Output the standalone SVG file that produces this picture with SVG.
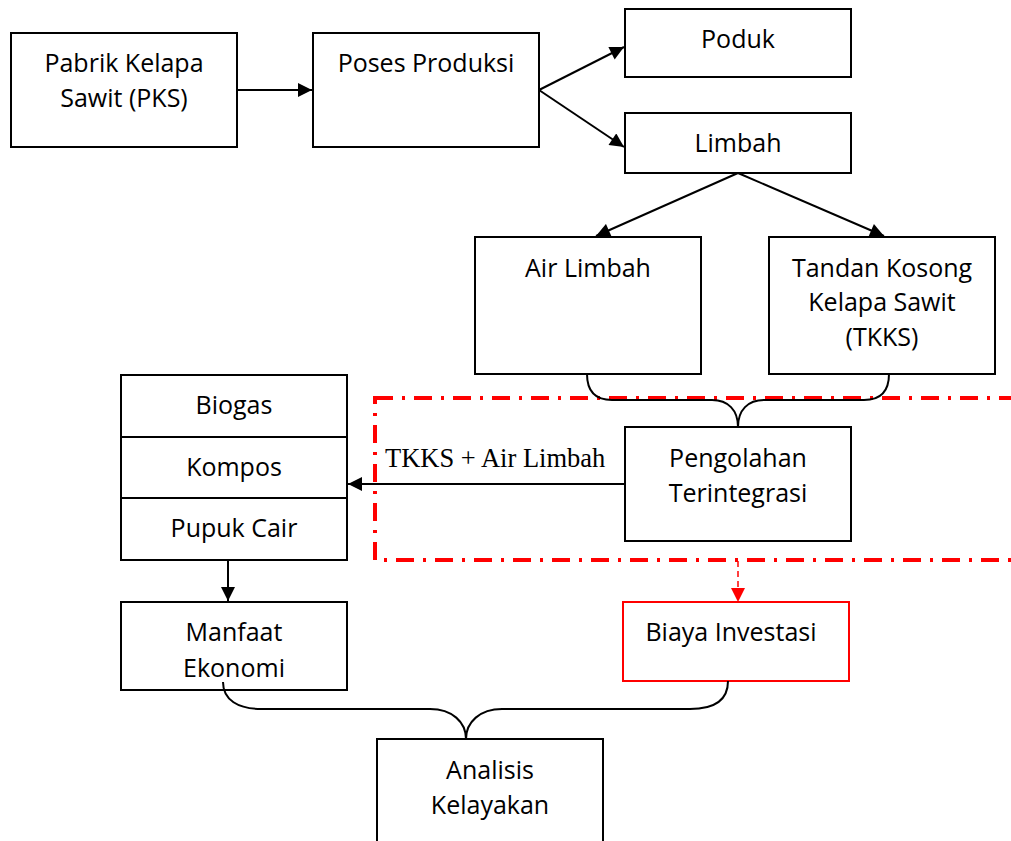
<svg xmlns="http://www.w3.org/2000/svg" width="1011" height="841" viewBox="0 0 1011 841">
<style>
.box{fill:#fff;stroke:#000;stroke-width:2}
.rbox{fill:#fff;stroke:#ff0000;stroke-width:2}
.t{font-family:"Open Sans","Liberation Sans",sans-serif;font-size:25px;fill:#000;text-anchor:middle}
.s{font-family:"Liberation Serif","Times New Roman",serif;font-size:26.5px;fill:#000}
.ln{fill:none;stroke:#000;stroke-width:2}
</style>
<defs>
<marker id="ah" viewBox="0 0 10 10" refX="10" refY="5" markerWidth="7.5" markerHeight="7" markerUnits="strokeWidth" orient="auto">
<path d="M0,0 L10,5 L0,10 Z" fill="#000"/>
</marker>
<marker id="rah" viewBox="0 0 10 10" refX="10" refY="5" markerWidth="14" markerHeight="14" markerUnits="userSpaceOnUse" orient="auto">
<path d="M0,0 L10,5 L0,10 Z" fill="#ff0000"/>
</marker>
</defs>
<g id="pks"><rect class="box" x="11" y="33" width="226" height="114"/><text class="t" x="124" y="72">Pabrik Kelapa</text><text class="t" x="124" y="107">Sawit (PKS)</text></g>
<g id="produksi"><rect class="box" x="313" y="33" width="226" height="114"/><text class="t" x="426" y="72">Poses Produksi</text></g>
<g id="poduk"><rect class="box" x="625" y="9" width="226" height="68"/><text class="t" x="738" y="48">Poduk</text></g>
<g id="limbah"><rect class="box" x="625" y="113" width="226" height="60"/><text class="t" x="738" y="152">Limbah</text></g>
<g id="airlimbah"><rect class="box" x="475" y="237" width="226" height="137"/><text class="t" x="588" y="277">Air Limbah</text></g>
<g id="tkks"><rect class="box" x="769" y="237" width="226" height="137"/><text class="t" x="882" y="277">Tandan Kosong</text><text class="t" x="882" y="311">Kelapa Sawit</text><text class="t" x="882" y="346">(TKKS)</text></g>
<g id="zone"><rect x="375" y="398" width="660" height="162" fill="none" stroke="#ff0000" stroke-width="4" stroke-dasharray="18 9 3 9"/></g>
<g id="pengolahan"><rect class="box" x="625" y="427" width="226" height="114"/><text class="t" x="738" y="467">Pengolahan</text><text class="t" x="738" y="502">Terintegrasi</text></g>
<g id="produk-olahan"><rect class="box" x="121" y="375" width="226" height="62"/><text class="t" x="234" y="414">Biogas</text><rect class="box" x="121" y="437" width="226" height="61"/><text class="t" x="234" y="476">Kompos</text><rect class="box" x="121" y="498" width="226" height="62"/><text class="t" x="234" y="537">Pupuk Cair</text></g>
<g id="manfaat"><rect class="box" x="121" y="602" width="226" height="88"/><text class="t" x="234" y="641">Manfaat</text><text class="t" x="234" y="677">Ekonomi</text></g>
<g id="biaya"><rect class="rbox" x="623" y="602" width="226" height="79"/><text class="t" x="731" y="641">Biaya Investasi</text></g>
<g id="analisis"><rect class="box" x="377" y="739" width="226" height="110"/><text class="t" x="490" y="779">Analisis</text><text class="t" x="490" y="814">Kelayakan</text></g>
<g id="connectors">
<line class="ln" x1="237" y1="90" x2="312" y2="90" marker-end="url(#ah)"/>
<line class="ln" x1="539" y1="90" x2="624" y2="47" marker-end="url(#ah)"/>
<line class="ln" x1="539" y1="90" x2="624" y2="147" marker-end="url(#ah)"/>
<line class="ln" x1="738" y1="173" x2="596" y2="236" marker-end="url(#ah)"/>
<line class="ln" x1="738" y1="173" x2="884" y2="236" marker-end="url(#ah)"/>
<path class="ln" d="M587,374 C587,392 596,400 612,400 L712,400 C728,400 738,410 738,427 C738,410 748,400 764,400 L864,400 C880,400 889,392 889,374"/>
<line class="ln" x1="625" y1="484" x2="348" y2="484" marker-end="url(#ah)"/>
<text class="s" x="385" y="467">TKKS + Air Limbah</text>
<line class="ln" x1="228" y1="560" x2="228" y2="601" marker-end="url(#ah)"/>
<line x1="738" y1="561" x2="738" y2="602" stroke="#ff0000" stroke-width="1.5" stroke-dasharray="6 4" marker-end="url(#rah)"/>
<path class="ln" d="M223,682 C223,700 238,709 262,709 L430,709 C452,709 466,722 466,739 C466,722 480,709 502,709 L690,709 C714,709 728,700 728,681"/>
</g>
</svg>
